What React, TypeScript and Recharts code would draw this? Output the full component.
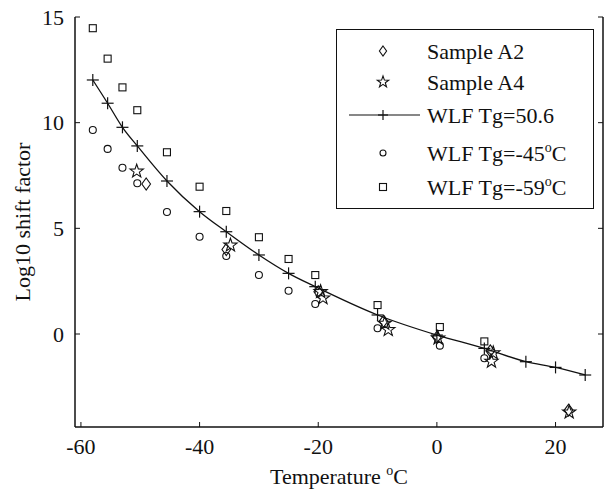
import React from "react";
import { ComposedChart, Scatter, Line, XAxis, YAxis, Legend } from "recharts";

// WLF fit, Tg = 50.6 (line with + markers)
const wlfTemp = [-58, -55.5, -53, -50.5, -45.5, -40, -35.5, -30, -25, -20.5, -10, 0, 8, 15, 20, 25];
const wlfShift = [12.02, 10.92, 9.78, 8.9, 7.24, 5.79, 4.84, 3.74, 2.87, 2.24, 0.9, -0.05, -0.68, -1.31, -1.58, -1.94];

// WLF curves for the other Tg values share the same temperatures
const tgTemp = [-58, -55.5, -53, -50.5, -45.5, -40, -35.5, -30, -25, -20.5, -10, 0.5, 8];
const tg45Shift = [9.65, 8.76, 7.87, 7.13, 5.77, 4.6, 3.69, 2.79, 2.05, 1.42, 0.27, -0.55, -1.15];
const tg59Shift = [14.47, 13.03, 11.67, 10.59, 8.6, 6.97, 5.82, 4.58, 3.55, 2.79, 1.37, 0.33, -0.35];

// measured samples
const a2Temp = [-49, -35.5, -20, -9, 0, 9, 22.2];
const a2Shift = [7.1, 4.0, 2.0, 0.6, -0.15, -0.8, -3.6];
const a4Temp = [-50.6, -34.8, -19.6, -19.2, -8.8, -8.2, 0.2, 9.5, 9.2, 22.3];
const a4Shift = [7.7, 4.2, 2.0, 1.7, 0.5, 0.2, -0.2, -0.9, -1.3, -3.7];

const xTicks = [-60, -40, -20, 0, 20];
const yTicks = [0, 5, 10, 15];

const zip = (xs: number[], ys: number[]) => xs.map((x, i) => ({ x, y: ys[i] }));

const wlfData = zip(wlfTemp, wlfShift);
const tg45Data = zip(tgTemp, tg45Shift);
const tg59Data = zip(tgTemp, tg59Shift);
const a2Data = zip(a2Temp, a2Shift);
const a4Data = zip(a4Temp, a4Shift);

const FONT = "'Liberation Serif', 'Times New Roman', serif";
const INK = "#111";

const Plus = ({ cx, cy, s = 6 }: any) => (
  <g stroke={INK} strokeWidth={1.2}>
    <line x1={cx - s} y1={cy} x2={cx + s} y2={cy} />
    <line x1={cx} y1={cy - s} x2={cx} y2={cy + s} />
  </g>
);
const Square = ({ cx, cy, s = 3.5 }: any) => (
  <rect x={cx - s} y={cy - s} width={2 * s} height={2 * s} fill="none" stroke={INK} strokeWidth={1.1} />
);
const Circle = ({ cx, cy, r = 3.5 }: any) => <circle cx={cx} cy={cy} r={r} fill="none" stroke={INK} strokeWidth={1.1} />;
const Diamond = ({ cx, cy, s = 6 }: any) => (
  <polygon
    points={`${cx},${cy - s} ${cx + s * 0.72},${cy} ${cx},${cy + s} ${cx - s * 0.72},${cy}`}
    fill="none"
    stroke={INK}
    strokeWidth={1.1}
  />
);
const Star = ({ cx, cy, s = 7 }: any) => {
  const pts: string[] = [];
  for (let i = 0; i < 10; i++) {
    const r = i % 2 === 0 ? s : s * 0.4;
    const a = -Math.PI / 2 + (i * Math.PI) / 5;
    pts.push(`${cx + r * Math.cos(a)},${cy + r * Math.sin(a)}`);
  }
  return <polygon points={pts.join(" ")} fill="none" stroke={INK} strokeWidth={1.1} />;
};

const BottomTick = ({ x, y, payload }: any) => (
  <g>
    <line x1={x} y1={y} x2={x} y2={y - 5} stroke={INK} />
    <text x={x} y={y + 27} textAnchor="middle" fontFamily={FONT} fontSize={22} fill={INK}>
      {payload.value}
    </text>
  </g>
);
const TopTick = ({ x, y }: any) => <line x1={x} y1={y} x2={x} y2={y + 5} stroke={INK} />;
const LeftTick = ({ x, y, payload }: any) => (
  <g>
    <line x1={x} y1={y} x2={x + 5} y2={y} stroke={INK} />
    <text x={x - 11} y={y} dy="0.35em" textAnchor="end" fontFamily={FONT} fontSize={22} fill={INK}>
      {payload.value}
    </text>
  </g>
);
const RightTick = ({ x, y }: any) => <line x1={x} y1={y} x2={x - 5} y2={y} stroke={INK} />;

const XLabel = ({ viewBox }: any) => (
  <text x={viewBox.x + viewBox.width / 2} y={viewBox.y + 57} textAnchor="middle" fontFamily={FONT} fontSize={22} fill={INK}>
    Temperature{" "}
    <tspan fontSize={14} dy={-9}>o</tspan>
    <tspan dy={9}>C</tspan>
  </text>
);
const YLabel = ({ viewBox }: any) => {
  const cx = viewBox.x + 22;
  const cy = viewBox.y + viewBox.height / 2;
  return (
    <text x={cx} y={cy} transform={`rotate(-90 ${cx} ${cy})`} textAnchor="middle" dy="0.35em" fontFamily={FONT} fontSize={22} fill={INK}>
      Log10 shift factor
    </text>
  );
};

const LegendBox = () => {
  const tx = 91;
  const mx = 47;
  const text = { fontFamily: FONT, fontSize: 22, fill: INK };
  return (
    <svg width={258} height={180}>
      <rect x={0.5} y={0.5} width={257} height={179} fill="#fff" stroke={INK} />
      <Diamond cx={mx} cy={22} s={5} />
      <text x={tx} y={22} dy="0.35em" {...text}>Sample A2</text>
      <Star cx={mx} cy={53} s={6} />
      <text x={tx} y={53} dy="0.35em" {...text}>Sample A4</text>
      <line x1={13} y1={86} x2={84} y2={86} stroke={INK} strokeWidth={1.2} />
      <Plus cx={mx} cy={86} s={5} />
      <text x={tx} y={86} dy="0.35em" {...text}>WLF Tg=50.6</text>
      <Circle cx={mx} cy={124} r={3} />
      <text x={tx} y={124} dy="0.35em" {...text}>
        WLF Tg=-45<tspan fontSize={14} dy={-9}>o</tspan>
        <tspan dy={9}>C</tspan>
      </text>
      <Square cx={mx} cy={158} s={3.5} />
      <text x={tx} y={158} dy="0.35em" {...text}>
        WLF Tg=-59<tspan fontSize={14} dy={-9}>o</tspan>
        <tspan dy={9}>C</tspan>
      </text>
    </svg>
  );
};

export default function App() {
  return (
    <div style={{ position: "absolute", left: 0, top: 0, background: "#fff" }}>
      <ComposedChart width={604} height={495} margin={{ top: 17, right: 0, bottom: 0, left: 0 }}>
        <XAxis
          xAxisId="b"
          dataKey="x"
          type="number"
          domain={[-61, 28]}
          ticks={xTicks}
          allowDataOverflow
          height={68}
          tickSize={0}
          tickMargin={0}
          tickLine={false}
          axisLine={{ stroke: INK, strokeWidth: 1.5 }}
          tick={<BottomTick />}
          label={<XLabel />}
        />
        <XAxis
          xAxisId="t"
          orientation="top"
          dataKey="x"
          type="number"
          domain={[-61, 28]}
          ticks={xTicks}
          allowDataOverflow
          height={0}
          tickSize={0}
          tickMargin={0}
          tickLine={false}
          axisLine={{ stroke: INK, strokeWidth: 1.5 }}
          tick={<TopTick />}
        />
        <YAxis
          yAxisId="l"
          dataKey="y"
          type="number"
          domain={[-4.4, 15]}
          ticks={yTicks}
          allowDataOverflow
          width={75}
          tickSize={0}
          tickMargin={0}
          tickLine={false}
          axisLine={{ stroke: INK, strokeWidth: 1.5 }}
          tick={<LeftTick />}
          label={<YLabel />}
        />
        <YAxis
          yAxisId="r"
          orientation="right"
          dataKey="y"
          type="number"
          domain={[-4.4, 15]}
          ticks={yTicks}
          allowDataOverflow
          width={1}
          tickSize={0}
          tickMargin={0}
          tickLine={false}
          axisLine={{ stroke: INK, strokeWidth: 1.5 }}
          tick={<RightTick />}
        />
        <Line
          xAxisId="b"
          yAxisId="l"
          data={wlfData}
          dataKey="y"
          type="monotone"
          stroke={INK}
          strokeWidth={1.3}
          dot={(p: any) => <Plus key={`p${p.index}`} cx={p.cx} cy={p.cy} />}
          activeDot={false}
          isAnimationActive={false}
        />
        <Scatter xAxisId="b" yAxisId="l" data={tg59Data} shape={(p: any) => <Square cx={p.cx} cy={p.cy} />} isAnimationActive={false} />
        <Scatter xAxisId="b" yAxisId="l" data={tg45Data} shape={(p: any) => <Circle cx={p.cx} cy={p.cy} />} isAnimationActive={false} />
        <Scatter xAxisId="b" yAxisId="l" data={a2Data} shape={(p: any) => <Diamond cx={p.cx} cy={p.cy} />} isAnimationActive={false} />
        <Scatter xAxisId="b" yAxisId="l" data={a4Data} shape={(p: any) => <Star cx={p.cx} cy={p.cy} />} isAnimationActive={false} />
        <Legend
          layout="horizontal"
          verticalAlign="middle"
          align="center"
          content={<LegendBox />}
          wrapperStyle={{ position: "absolute", left: 336, top: 29, width: 258, height: 180, margin: 0 }}
        />
      </ComposedChart>
    </div>
  );
}
